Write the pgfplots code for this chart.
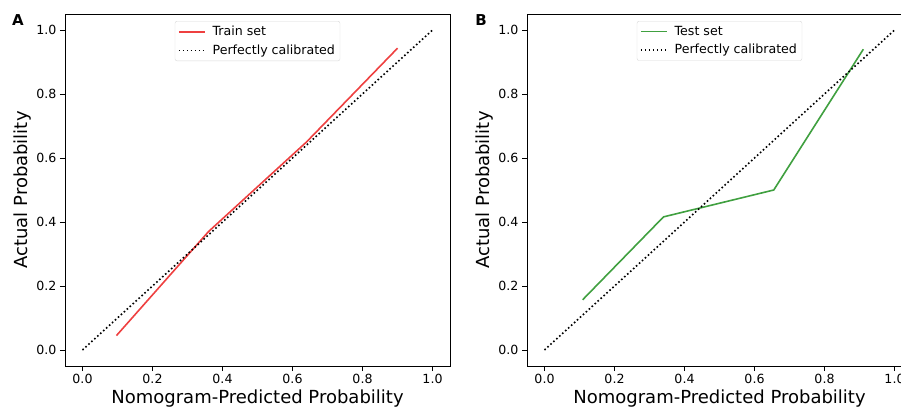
\documentclass[border=0pt]{standalone}
\usepackage{fontspec}
\setmainfont{DejaVu Sans}
\usepackage{pgfplots}
\pgfplotsset{compat=1.18}

\definecolor{trainred}{RGB}{238,64,64}
\definecolor{testgreen}{RGB}{64,160,64}

\pgfplotsset{
  calib/.style={
    scale only axis,
    width=385pt, height=352pt,
    xmin=-0.05, xmax=1.05, ymin=-0.05, ymax=1.05,
    xtick={0,0.2,0.4,0.6,0.8,1.0},
    ytick={0,0.2,0.4,0.6,0.8,1.0},
    tick align=outside,
    major tick length=5pt,
    tick style={black, line width=0.8pt},
    xtick pos=bottom, ytick pos=left,
    axis line style={line width=0.9pt},
    /pgf/number format/.cd, fixed, fixed zerofill, precision=1, assume math mode=true,
    /pgfplots/.cd,
    tick label style={font=\fontsize{12.6}{15}\selectfont},
    xlabel={Nomogram-Predicted Probability},
    ylabel={Actual Probability},
    every axis x label/.style={at={(axis description cs:0.5,-0.091)}, anchor=center,
      font=\fontsize{18}{21}\selectfont},
    every axis y label/.style={at={(axis description cs:-0.11,0.5)}, anchor=center, rotate=90,
      font=\fontsize{18}{21}\selectfont},
    legend style={at={(0.5,0.98)}, anchor=north, draw=black!15, rounded corners=2pt,
      font=\fontsize{12.6}{15}\selectfont, inner xsep=3pt, inner ysep=3pt,
      row sep=3.5pt, cells={anchor=west}},
    legend image code/.code={\draw[##1] (0pt,0pt) -- (26pt,0pt); \path (31pt,0pt);},
  },
  diag/.style={black, line width=1.6pt, dash pattern=on 1.6pt off 2.4pt},
}

\begin{document}
\begin{tikzpicture}
\path[use as bounding box] (0pt,0pt) rectangle (901pt,410pt);
\begin{scope}
\clip (0pt,0pt) rectangle (901pt,410pt);

\begin{axis}[calib, at={(65pt,44pt)}, anchor=south west]
\addplot[trainred, line width=1.6pt] coordinates {(0.097,0.045) (0.36,0.37) (0.64,0.65) (0.90,0.943)};
\addlegendentry{Train set}
\addplot[diag] coordinates {(0,0) (1,1)};
\addlegendentry{Perfectly calibrated}
\end{axis}

\begin{axis}[calib, at={(527pt,44pt)}, anchor=south west]
\addplot[testgreen, line width=1.6pt] coordinates {(0.109,0.157) (0.340,0.416) (0.655,0.500) (0.911,0.940)};
\addlegendentry{Test set}
\addplot[diag] coordinates {(0,0) (1,1)};
\addlegendentry{Perfectly calibrated}
\end{axis}

\node[font=\fontsize{15}{17}\selectfont\bfseries] at (18pt,390pt) {A};
\node[font=\fontsize{15}{17}\selectfont\bfseries] at (481pt,390pt) {B};
\end{scope}
\end{tikzpicture}
\end{document}
